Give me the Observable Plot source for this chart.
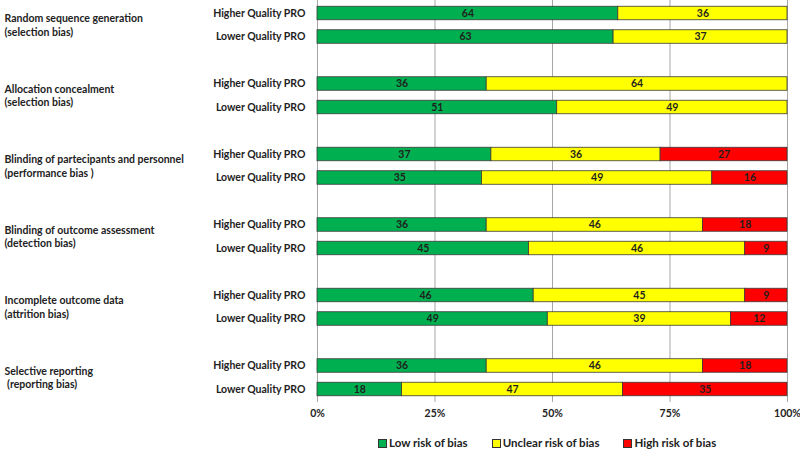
<!DOCTYPE html>
<html>
<head>
<meta charset="utf-8">
<script src="https://cdn.jsdelivr.net/npm/d3@7"></script>
<script src="https://cdn.jsdelivr.net/npm/@observablehq/plot@0.6"></script>
<style>
  html, body { margin: 0; padding: 0; background: #fff; }
  #chart { width: 800px; }
  #chart svg { overflow: visible; }
  .legend { display: flex; justify-content: flex-start; align-items: center; gap: 24px;
    padding-left: 378px; padding-top: 4px; height: 25px; font-family: Lato, "Open Sans", sans-serif;
    font-weight: 700; font-size: 11.5px; color: #222; }
  .legend span.sw { display: inline-block; width: 7px; height: 7px; border: 1px solid #333; margin-right: 2px; vertical-align: -1px; }
</style>
</head>
<body>
<div id="chart"></div>
<script>
const domains = [
  "Random sequence generation\n(selection bias)",
  "Allocation concealment\n(selection bias)",
  "Blinding of partecipants and personnel\n(performance bias )",
  "Blinding of outcome assessment\n(detection bias)",
  "Incomplete outcome data\n(attrition bias)",
  "Selective reporting\n (reporting bias)"
];
const groups = ["Higher Quality PRO", "Lower Quality PRO"];
const categories = ["Low risk of bias", "Unclear risk of bias", "High risk of bias"];
const colors = ["#00B050", "#FFFF00", "#FF0000"];
const low     = [64, 63, 36, 51, 37, 35, 36, 45, 46, 49, 36, 18];
const unclear = [36, 37, 64, 49, 36, 49, 46, 46, 45, 39, 46, 47];
const high    = [ 0,  0,  0,  0, 27, 16, 18,  9,  9, 12, 18, 35];
const xTicks = [0, 25, 50, 75, 100];

const rows = [];
const rowLabel = new Map();
const data = [];
domains.forEach((d, i) => {
  groups.forEach((g, j) => {
    const key = `${i}-${j}`;
    rows.push(key);
    rowLabel.set(key, g);
    const k = i * 2 + j;
    [low[k], unclear[k], high[k]].forEach((v, c) => data.push({row: key, cat: categories[c], value: v}));
  });
  if (i < domains.length - 1) { rows.push(`${i}-s`); rowLabel.set(`${i}-s`, ""); }
});

const font = "Lato, 'Open Sans', sans-serif";
const chart = Plot.plot({
  width: 800,
  height: 426,
  marginLeft: 317,
  marginRight: 13,
  marginTop: 0,
  marginBottom: 24,
  style: {fontFamily: font, fontSize: "10.5px", fontWeight: 700, color: "#222", background: "#fff", overflow: "visible"},
  x: {domain: [0, 100], label: null},
  y: {domain: rows, paddingInner: 0.425, paddingOuter: 0.266, round: false, label: null},
  color: {domain: categories, range: colors},
  marks: [
    Plot.ruleX(xTicks, {stroke: "#a6a6a6", strokeWidth: 1}),
    Plot.axisX({ticks: xTicks, tickFormat: d => d + "%", tickSize: 0, tickPadding: 7, fontWeight: 700, fill: "#222"}),
    Plot.barX(data, Plot.stackX({x: "value", y: "row", fill: "cat", z: "cat", stroke: "#3a3a3a", strokeWidth: 0.8})),
    Plot.text(data.filter(d => d.value > 0), Plot.stackX({x: "value", y: "row", z: "cat", text: d => String(d.value), fill: "#1f1f1f", fontWeight: 700, fontSize: 10.5})),
    Plot.axisY({tickSize: 0, tickPadding: 12, tickFormat: d => rowLabel.get(d), fontWeight: 700, fill: "#222"}),
    Plot.text(domains, {y: (d, i) => `${i}-0`, frameAnchor: "left", dx: -313, dy: 11, textAnchor: "start", lineAnchor: "middle", lineHeight: 1.3, text: d => d, fill: "#222", fontWeight: 700})
  ]
});
document.getElementById("chart").appendChild(chart);

const legend = document.createElement("div");
legend.className = "legend";
categories.forEach((c, i) => {
  const item = document.createElement("div");
  const sw = document.createElement("span");
  sw.className = "sw";
  sw.style.background = colors[i];
  item.appendChild(sw);
  item.appendChild(document.createTextNode(c));
  legend.appendChild(item);
});
document.body.appendChild(legend);
</script>
</body>
</html>
